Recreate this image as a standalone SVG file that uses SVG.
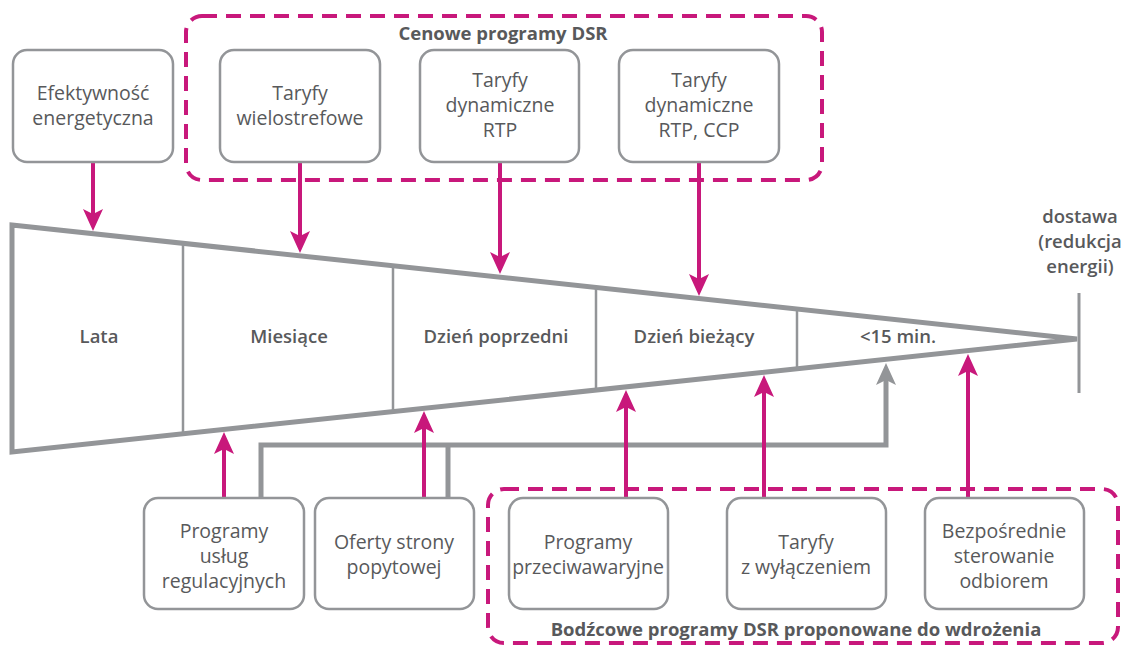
<svg xmlns="http://www.w3.org/2000/svg" width="1123" height="653" viewBox="0 0 1123 653">
<defs>
<style>
.box{fill:#fff;stroke:#939598;stroke-width:2.5}
.grp{fill:none;stroke:#c8187b;stroke-width:4;stroke-dasharray:15 9}
.t{font-family:"Open Sans","Liberation Sans",sans-serif;font-size:19.5px;font-weight:500;fill:#58595b;text-anchor:middle}
.b{font-size:18.5px;font-weight:600}
.bb{font-size:18.5px;font-weight:700}
.mg{stroke:#c8187b;stroke-width:4;fill:none}
.gy{stroke:#939598;stroke-width:5;fill:none}
</style>
<marker id="am" markerWidth="22" markerHeight="22" viewBox="0 0 22 22" refX="8" refY="11" orient="auto" markerUnits="userSpaceOnUse"><path d="M0,1 L22,11 L0,21 L5,11 z" fill="#c8187b"/></marker>
<marker id="ag" markerWidth="22" markerHeight="22" viewBox="0 0 22 22" refX="8" refY="11" orient="auto" markerUnits="userSpaceOnUse"><path d="M0,1 L22,11 L0,21 L5,11 z" fill="#939598"/></marker>
</defs>
<rect width="1123" height="653" fill="#fff"/>

<g id="timeline">
<polygon points="12,225 1077,339 12,452" fill="#fff" stroke="#939598" stroke-width="5"/>
<line x1="183" y1="243" x2="183" y2="434" stroke="#939598" stroke-width="2.5"/>
<line x1="393" y1="266" x2="393" y2="411" stroke="#939598" stroke-width="2.5"/>
<line x1="596" y1="288" x2="596" y2="390" stroke="#939598" stroke-width="2.5"/>
<line x1="797" y1="309" x2="797" y2="369" stroke="#939598" stroke-width="2.5"/>
<line x1="1079" y1="293" x2="1079" y2="393" stroke="#939598" stroke-width="3"/>
<text class="t b" x="99" y="343">Lata</text>
<text class="t b" x="289" y="343">Miesiące</text>
<text class="t b" x="496" y="343">Dzień poprzedni</text>
<text class="t b" x="694" y="343">Dzień bieżący</text>
<text class="t b" x="898" y="343">&lt;15 min.</text>
</g>

<g id="dostawa">
<text class="t b" x="1080" y="223">dostawa</text>
<text class="t b" x="1080" y="248">(redukcja</text>
<text class="t b" x="1080" y="273">energii)</text>
</g>

<g id="cenowe">
<rect class="grp" x="186" y="16" width="636" height="164" rx="16"/>
<text class="t bb" x="503" y="40">Cenowe programy DSR</text>
</g>

<g id="bodzcowe">
<rect class="grp" x="488" y="489" width="630" height="154" rx="16"/>
<text class="t bb" x="796" y="636">Bodźcowe programy DSR proponowane do wdrożenia</text>
</g>

<g id="connectors">
<line class="mg" x1="93" y1="162" x2="93" y2="217" marker-end="url(#am)"/>
<line class="mg" x1="300" y1="162" x2="300" y2="239" marker-end="url(#am)"/>
<line class="mg" x1="500" y1="162" x2="500" y2="260" marker-end="url(#am)"/>
<line class="mg" x1="699" y1="162" x2="699" y2="282" marker-end="url(#am)"/>
<polyline class="gy" points="261,498 261,445 886,445 886,377" marker-end="url(#ag)"/>
<line class="gy" x1="448" y1="498" x2="448" y2="445"/>
<line class="mg" x1="224" y1="498" x2="224" y2="446" marker-end="url(#am)"/>
<line class="mg" x1="424" y1="498" x2="424" y2="425" marker-end="url(#am)"/>
<line class="mg" x1="626" y1="498" x2="626" y2="404" marker-end="url(#am)"/>
<line class="mg" x1="764" y1="498" x2="764" y2="389" marker-end="url(#am)"/>
<line class="mg" x1="968" y1="498" x2="968" y2="368" marker-end="url(#am)"/>
</g>

<g id="n-efektywnosc">
<rect class="box" x="13" y="50" width="160" height="112" rx="14"/>
<text class="t" x="93" y="100">Efektywność</text>
<text class="t" x="93" y="125">energetyczna</text>
</g>
<g id="n-wielostrefowe">
<rect class="box" x="220" y="50" width="160" height="112" rx="14"/>
<text class="t" x="300" y="100">Taryfy</text>
<text class="t" x="300" y="125">wielostrefowe</text>
</g>
<g id="n-rtp">
<rect class="box" x="420" y="50" width="159" height="112" rx="14"/>
<text class="t" x="500" y="87">Taryfy</text>
<text class="t" x="500" y="112">dynamiczne</text>
<text class="t" x="500" y="137">RTP</text>
</g>
<g id="n-rtpccp">
<rect class="box" x="619" y="50" width="160" height="112" rx="14"/>
<text class="t" x="699" y="87">Taryfy</text>
<text class="t" x="699" y="112">dynamiczne</text>
<text class="t" x="699" y="137">RTP, CCP</text>
</g>

<g id="n-regulacyjne">
<rect class="box" x="144" y="498" width="160" height="111" rx="14"/>
<text class="t" x="224" y="538">Programy</text>
<text class="t" x="224" y="563">usług</text>
<text class="t" x="224" y="588">regulacyjnych</text>
</g>
<g id="n-oferty">
<rect class="box" x="315" y="498" width="159" height="111" rx="14"/>
<text class="t" x="394" y="549">Oferty strony</text>
<text class="t" x="394" y="574">popytowej</text>
</g>
<g id="n-przeciwawaryjne">
<rect class="box" x="509" y="498" width="159" height="111" rx="14"/>
<text class="t" x="588" y="549">Programy</text>
<text class="t" x="588" y="574">przeciwawaryjne</text>
</g>
<g id="n-wylaczenie">
<rect class="box" x="727" y="498" width="159" height="111" rx="14"/>
<text class="t" x="806" y="549">Taryfy</text>
<text class="t" x="806" y="574">z wyłączeniem</text>
</g>
<g id="n-bezposrednie">
<rect class="box" x="925" y="498" width="159" height="111" rx="14"/>
<text class="t" x="1004" y="538">Bezpośrednie</text>
<text class="t" x="1004" y="563">sterowanie</text>
<text class="t" x="1004" y="588">odbiorem</text>
</g>
</svg>
